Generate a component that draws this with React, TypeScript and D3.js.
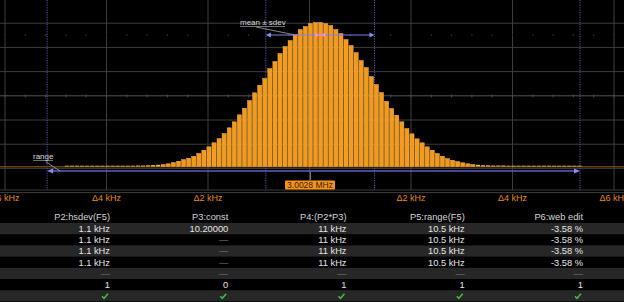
import React from "react";
import * as d3 from "d3";

// ---- data ----
const binStartKHz = -4.83;
const binWidthKHz = 0.1;
const binValues = [
  8, 8, 8, 8, 8, 8, 8, 8, 8, 8,
  8, 8, 8, 8, 10, 10, 12, 14,
  17, 20, 27, 40, 53, 70, 83, 103, 130, 163,
  197, 237, 280, 330, 387, 447, 517, 583, 660, 737,
  813, 880, 980, 1050, 1130, 1200, 1260, 1320, 1370, 1400,
  1430, 1440, 1440, 1430, 1410, 1370, 1330, 1270, 1210, 1140,
  1060, 990, 900, 820, 740, 653, 580, 513, 447, 380,
  327, 277, 237, 197, 163, 130, 103, 80, 63, 50,
  37, 27, 20, 17, 13,
  12, 10, 10, 10, 8, 8, 8, 8, 8, 8, 8, 8, 8, 8, 8, 8, 8, 8, 8,
];
const rangeMinKHz = -5.17;
const rangeMaxKHz = 5.33;
const meanKHz = 0.21;
const sdevKHz = 1.07;
const centerLabel = "3.0028 MHz";
const axisTicks = [-6, -4, -2, 2, 4, 6];
const axisTickLabels = ["Δ6 kHz", "Δ4 kHz", "Δ2 kHz", "Δ2 kHz", "Δ4 kHz", "Δ6 kHz"];
const gridXTicks = [-6, -4, -2, 0, 2, 4, 6];

const columnHeaders = ["P2:hsdev(F5)", "P3:const", "P4:(P2*P3)", "P5:range(F5)", "P6:web edit"];
const colP2 = ["1.1 kHz", "1.1 kHz", "1.1 kHz", "1.1 kHz", "—", "1", "✓"];
const colP3 = ["10.20000", "—", "—", "—", "—", "0", "✓"];
const colP4 = ["11 kHz", "11 kHz", "11 kHz", "11 kHz", "—", "1", "✓"];
const colP5 = ["10.5 kHz", "10.5 kHz", "10.5 kHz", "10.5 kHz", "—", "1", "✓"];
const colP6 = ["-3.58 %", "-3.58 %", "-3.58 %", "-3.58 %", "—", "1", "✓"];
const tableColumns = [colP2, colP3, colP4, colP5, colP6];

// ---- layout ----
const W = 624;
const H = 302;
const FONT = "'Liberation Sans', Arial, sans-serif";

export default function App() {
  const x = d3.scaleLinear().domain([-6, 6]).range([5, 614]);
  const y = d3.scaleLinear().domain([0, 1500]).range([166.5, 16.5]);
  const gridY = d3.range(0, 9).map((k) => -1 + 24.2 * k);
  const minorX = d3.range(-6, 6.001, 0.4);
  const colX = d3.scaleLinear().domain([0, 4]).range([110, 583]);
  const rowY = d3.scaleLinear().domain([0, 6]).range([223, 290.2]);
  const rowH = 11.2;
  const bw = x(binWidthKHz) - x(0);

  const xMin = x(rangeMinKHz);
  const xMax = x(rangeMaxKHz);
  const xLo = x(meanKHz - sdevKHz);
  const xHi = x(meanKHz + sdevKHz);
  const xMean = x(meanKHz);
  const lav = "#8c8cf5";

  const tri = (px: number, py: number, dir: number, w = 6, h = 2.6) =>
    `M${px},${py}L${px - dir * w},${py - h}L${px - dir * w},${py + h}Z`;

  return (
    <svg width={W} height={H} style={{ position: "absolute", left: 0, top: 0, display: "block", background: "#000" }}>
      <rect x={0} y={0} width={W} height={H} fill="#000" />
      {/* grid */}
      {gridY.map((gy, i) => (
        <line key={"gy" + i} x1={0} x2={W} y1={gy} y2={gy} stroke={i === 4 ? "#555" : "#3e3e3e"} strokeWidth={1} />
      ))}
      {gridXTicks.map((t) => (
        <line key={"gx" + t} x1={x(t)} x2={x(t)} y1={0} y2={190} stroke="#3e3e3e" strokeWidth={1} />
      ))}
      {minorX.map((t, i) => (
        <g key={"mx" + i}>
          <line x1={x(t)} x2={x(t)} y1={94.5} y2={97.5} stroke="#4a4a4a" />
          <line x1={x(t)} x2={x(t)} y1={34} y2={36} stroke="#2e2e2e" />
        </g>
      ))}
      <line x1={0} x2={W} y1={190} y2={190} stroke="#3a3a3a" />

      {/* dotted markers */}
      {[xMin, xLo, xHi, xMax].map((dx, i) => (
        <line key={"dm" + i} x1={dx} x2={dx} y1={0} y2={190} stroke="#5a5ab4" strokeWidth={1} strokeDasharray="1.2,1.2" />
      ))}

      {/* trace baseline */}
      <line x1={0} x2={W} y1={166.8} y2={166.8} stroke="#9a5e1c" strokeWidth={1} />

      {/* histogram bars */}
      {binValues.map((v, i) => {
        const bx = x(binStartKHz + i * binWidthKHz);
        return (
          <rect
            key={"b" + i}
            x={bx + 0.4}
            y={y(v)}
            width={bw - 0.9}
            height={y(0) - y(v)}
            fill={v < 20 ? "#e8c050" : "#f39a1e"}
            stroke={v < 20 ? "none" : "#ffbf55"}
            strokeWidth={0.4}
          />
        );
      })}

      {/* range line */}
      <line x1={xMin + 4} x2={xMax - 4} y1={171} y2={171} stroke="#5c5cc0" strokeWidth={1.6} />
      <path d={tri(xMin, 171, -1)} fill={lav} />
      <path d={tri(xMax, 171, 1)} fill={lav} />
      <text x={33} y={158.5} fill="#d8d8d8" fontFamily={FONT} fontSize={8}>range</text>
      <line x1={33} x2={53} y1={160.5} y2={160.5} stroke="#bbb" strokeWidth={0.6} />
      <line x1={46} x2={60} y1={162} y2={171} stroke="#aaa" strokeWidth={0.8} />

      {/* mean ± sdev */}
      <line x1={xLo + 4} x2={xHi - 4} y1={35} y2={35} stroke="#8080e8" strokeWidth={1} />
      <path d={tri(xLo, 35, -1, 5, 2.5)} fill={lav} />
      <path d={tri(xHi, 35, 1, 5, 2.5)} fill={lav} />
      <line x1={xMean - 5} x2={xMean + 5} y1={35} y2={35} stroke="#ff8ad0" strokeWidth={1.2} />
      <path d={tri(xMean - 1.5, 35, 1, 3.5, 2.5)} fill="#ff8ad0" />
      <path d={tri(xMean + 1.5, 35, -1, 3.5, 2.5)} fill="#ff8ad0" />
      <text x={240} y={24.5} fill="#d8d8d8" fontFamily={FONT} fontSize={8}>mean ± sdev</text>
      <line x1={240} x2={285} y1={26.5} y2={26.5} stroke="#bbb" strokeWidth={0.6} />
      <line x1={256} x2={293} y1={27} y2={34.5} stroke="#aaa" strokeWidth={0.8} />

      {/* center marker */}
      <line x1={x(0) + 1} x2={x(0) + 1} y1={172} y2={180} stroke="#777" />
      <rect x={x(0) - 24.5} y={180.5} width={50} height={9} fill="#f7941d" rx={1} />
      <text x={x(0) + 0.5} y={188.2} fill="#3a1c00" fontFamily={FONT} fontSize={8.5} textAnchor="middle">{centerLabel}</text>

      {/* axis labels */}
      {axisTicks.map((t, i) => (
        <text key={"al" + i} x={x(t)} y={200.5} fill="#e58c1c" fontFamily={FONT} fontSize={9} textAnchor="middle">
          {axisTickLabels[i]}
        </text>
      ))}

      {/* table */}
      {d3.range(0, 7).map((r) =>
        r % 2 === 0 ? <rect key={"rb" + r} x={0} y={rowY(r)} width={W} height={rowH} fill="#272727" /> : null
      )}
      {columnHeaders.map((h, j) => (
        <text key={"h" + j} x={colX(j)} y={219.5} fill="#d6d6d6" fontFamily={FONT} fontSize={9.3} textAnchor="end">{h}</text>
      ))}
      {tableColumns.map((col, j) =>
        col.map((cell, r) => {
          const cy = rowY(r) + rowH / 2;
          if (cell === "✓") {
            const cx = colX(j) - 2;
            return (
              <path key={`c${j}-${r}`} d={`M${cx - 6},${cy + 0.5}L${cx - 4},${cy + 2.5}L${cx},${cy - 2}`} fill="none" stroke="#3fbf3f" strokeWidth={1.5} />
            );
          }
          const dash = cell === "—";
          return (
            <text key={`c${j}-${r}`} x={colX(j)} y={cy + 3.4} fill={dash ? "#7a7a7a" : "#e6e6e6"} fontFamily={FONT} fontSize={9.3} textAnchor="end">
              {cell}
            </text>
          );
        })
      )}
    </svg>
  );
}
